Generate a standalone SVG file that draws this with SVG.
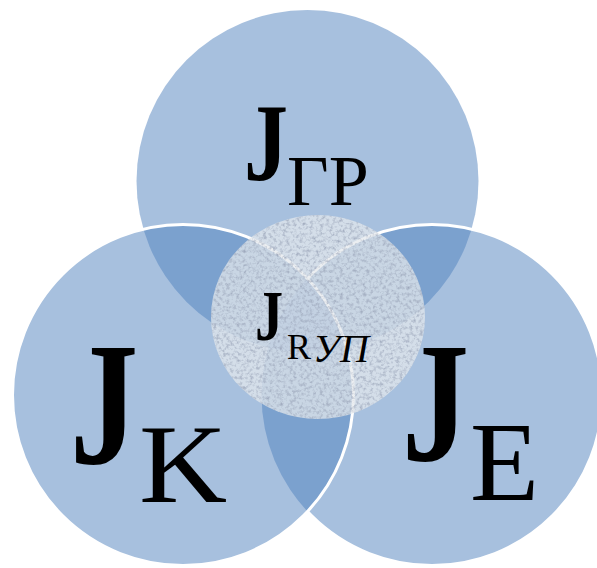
<svg xmlns="http://www.w3.org/2000/svg" width="597" height="568" viewBox="0 0 597 568">
  <style>
    .set { fill: #4F81BD; fill-opacity: 0.5; }
    .edge { fill: none; stroke: #ffffff; stroke-width: 3; }
    .lbl { font-family: "Liberation Serif", "Times New Roman", serif; fill: #000000; }
    .big { font-weight: bold; }
    .it { font-style: italic; }
  </style>
  <defs>
    <mask id="outsideK" maskUnits="userSpaceOnUse" x="0" y="0" width="597" height="568">
      <rect x="0" y="0" width="597" height="568" fill="#ffffff"/>
      <circle cx="183" cy="395" r="170.5" fill="#000000"/>
    </mask>
    <filter id="grain" x="0" y="0" width="100%" height="100%" color-interpolation-filters="sRGB">
      <feTurbulence type="fractalNoise" baseFrequency="0.3" numOctaves="3" seed="7" result="t"/>
      <feColorMatrix in="t" type="matrix" values="0 0 0 0 0.6  0 0 0 0 0.64  0 0 0 0 0.72  1.9 0 0 0 -0.85" result="n"/>
      <feComposite in="n" in2="SourceGraphic" operator="in"/>
    </filter>
  </defs>

  <g id="node-gr">
    <circle class="set" cx="307.5" cy="181" r="171"/>
  </g>
  <g id="node-e">
    <circle class="set" cx="432" cy="395" r="170.5"/>
  </g>
  <g id="node-k">
    <circle class="set" cx="183" cy="395" r="170.5"/>
  </g>
  <g id="connectors">
    <circle class="edge" cx="432" cy="395" r="170.5" mask="url(#outsideK)"/>
    <circle class="edge" cx="183" cy="395" r="170.5"/>
  </g>
  <g id="node-ryp">
    <ellipse cx="318" cy="317" rx="107" ry="102" fill="#e4e8ec" fill-opacity="0.74"/>
    <ellipse cx="318" cy="317" rx="107" ry="102" fill="#000000" filter="url(#grain)"/>
  </g>

  <g id="labels">
    <text class="lbl big" font-size="110" transform="translate(244 180) scale(0.8 1)">J</text>
    <text class="lbl" x="287" y="205" font-size="72">ГР</text>
    <text class="lbl big" font-size="175" transform="translate(70 463) scale(0.78 1)">J</text>
    <text class="lbl" font-size="113" transform="translate(139 502) scale(1.08 1)">K</text>
    <text class="lbl big" font-size="172" transform="translate(402 460) scale(0.78 1)">J</text>
    <text class="lbl" x="470" y="500" font-size="113">E</text>
    <text class="lbl big" font-size="72" transform="translate(255 340) scale(0.78 1)">J</text>
    <text class="lbl" x="287" y="359" font-size="36">R</text>
    <text class="lbl it" x="313" y="362" font-size="40">УП</text>
  </g>
</svg>
